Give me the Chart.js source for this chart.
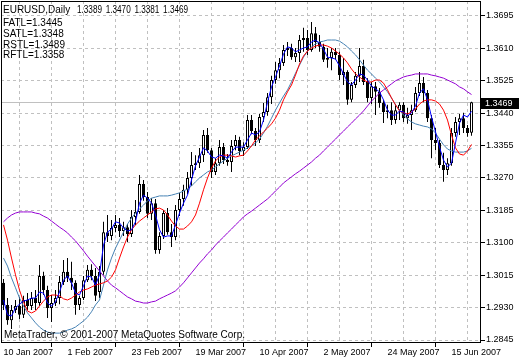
<!DOCTYPE html>
<html>
<head>
<meta charset="utf-8">
<script src="https://cdn.jsdelivr.net/npm/chart.js@4"></script>
<style>
  html, body { margin: 0; padding: 0; background: #fff; }
  canvas { display: block; }
</style>
</head>
<body>
<canvas id="chart" width="520" height="360"></canvas>
<script>
// EURUSD daily, 10 Jan 2007 .. 22 Jun 2007 (one entry per trading day)
const open = [1.2995, 1.2937, 1.2897, 1.2924, 1.2934, 1.2911, 1.2950, 1.2934, 1.2955, 1.2942,
  1.3013, 1.2976, 1.2929, 1.2942, 1.2955, 1.2997, 1.3024, 1.3008, 1.2995, 1.2937,
  1.2955, 1.3002, 1.3029, 1.3013, 1.2971, 1.3024, 1.3128, 1.3118, 1.3139, 1.3147,
  1.3131, 1.3141, 1.3123, 1.3168, 1.3181, 1.3254, 1.3220, 1.3176, 1.3204, 1.3081,
  1.3118, 1.3178, 1.3128, 1.3115, 1.3186, 1.3215, 1.3239, 1.3270, 1.3304, 1.3309,
  1.3330, 1.3383, 1.3343, 1.3286, 1.3309, 1.3351, 1.3317, 1.3312, 1.3354, 1.3370,
  1.3341, 1.3351, 1.3422, 1.3393, 1.3370, 1.3430, 1.3443, 1.3482, 1.3527, 1.3553,
  1.3572, 1.3606, 1.3611, 1.3587, 1.3598, 1.3632, 1.3637, 1.3606, 1.3650, 1.3627,
  1.3614, 1.3580, 1.3585, 1.3601, 1.3593, 1.3540, 1.3548, 1.3475, 1.3514, 1.3538,
  1.3564, 1.3522, 1.3480, 1.3511, 1.3496, 1.3467, 1.3443, 1.3448, 1.3422, 1.3448,
  1.3462, 1.3427, 1.3435, 1.3448, 1.3493, 1.3519, 1.3493, 1.3427, 1.3370, 1.3362,
  1.3304, 1.3291, 1.3309, 1.3388, 1.3417, 1.3427, 1.3401, 1.3389];
const high = [1.3005, 1.2955, 1.2937, 1.2950, 1.2958, 1.2961, 1.2968, 1.2971, 1.2976, 1.3042,
  1.3024, 1.2987, 1.2963, 1.2976, 1.3013, 1.3055, 1.3060, 1.3050, 1.3002, 1.2961,
  1.3013, 1.3042, 1.3044, 1.3034, 1.3039, 1.3155, 1.3173, 1.3160, 1.3173, 1.3165,
  1.3155, 1.3149, 1.3186, 1.3212, 1.3278, 1.3265, 1.3233, 1.3217, 1.3215, 1.3128,
  1.3186, 1.3191, 1.3149, 1.3199, 1.3231, 1.3252, 1.3286, 1.3338, 1.3330, 1.3349,
  1.3396, 1.3401, 1.3349, 1.3322, 1.3370, 1.3362, 1.3333, 1.3370, 1.3383, 1.3378,
  1.3364, 1.3435, 1.3435, 1.3401, 1.3438, 1.3467, 1.3493, 1.3538, 1.3574, 1.3585,
  1.3619, 1.3627, 1.3622, 1.3611, 1.3645, 1.3664, 1.3658, 1.3679, 1.3666, 1.3645,
  1.3622, 1.3611, 1.3611, 1.3611, 1.3601, 1.3585, 1.3553, 1.3522, 1.3548, 1.3611,
  1.3580, 1.3532, 1.3522, 1.3522, 1.3506, 1.3475, 1.3462, 1.3469, 1.3464, 1.3469,
  1.3469, 1.3454, 1.3462, 1.3509, 1.3548, 1.3535, 1.3501, 1.3435, 1.3401, 1.3370,
  1.3336, 1.3322, 1.3401, 1.3430, 1.3438, 1.3441, 1.3409, 1.3470];
const low = [1.2924, 1.2885, 1.2874, 1.2916, 1.2900, 1.2903, 1.2924, 1.2924, 1.2924, 1.2934,
  1.2963, 1.2903, 1.2892, 1.2934, 1.2939, 1.2989, 1.2997, 1.2976, 1.2911, 1.2924,
  1.2950, 1.2997, 1.3002, 1.2947, 1.2955, 1.3016, 1.3102, 1.3107, 1.3128, 1.3115,
  1.3118, 1.3102, 1.3115, 1.3147, 1.3176, 1.3210, 1.3165, 1.3160, 1.3071, 1.3071,
  1.3110, 1.3121, 1.3089, 1.3107, 1.3170, 1.3197, 1.3228, 1.3249, 1.3291, 1.3296,
  1.3312, 1.3336, 1.3270, 1.3278, 1.3302, 1.3307, 1.3302, 1.3286, 1.3343, 1.3330,
  1.3328, 1.3346, 1.3385, 1.3354, 1.3362, 1.3417, 1.3433, 1.3464, 1.3517, 1.3532,
  1.3564, 1.3590, 1.3580, 1.3574, 1.3574, 1.3601, 1.3593, 1.3601, 1.3611, 1.3601,
  1.3574, 1.3559, 1.3553, 1.3580, 1.3527, 1.3514, 1.3462, 1.3469, 1.3506, 1.3522,
  1.3514, 1.3469, 1.3464, 1.3435, 1.3454, 1.3414, 1.3427, 1.3409, 1.3412, 1.3422,
  1.3417, 1.3412, 1.3396, 1.3443, 1.3485, 1.3469, 1.3417, 1.3322, 1.3343, 1.3296,
  1.3260, 1.3278, 1.3302, 1.3378, 1.3383, 1.3388, 1.3378, 1.3381];
const close = [1.2937, 1.2897, 1.2924, 1.2934, 1.2911, 1.2950, 1.2934, 1.2955, 1.2942, 1.3013,
  1.2976, 1.2929, 1.2942, 1.2955, 1.2997, 1.3024, 1.3008, 1.2995, 1.2937, 1.2955,
  1.3002, 1.3029, 1.3013, 1.2961, 1.3024, 1.3128, 1.3118, 1.3139, 1.3147, 1.3131,
  1.3141, 1.3123, 1.3168, 1.3181, 1.3254, 1.3220, 1.3176, 1.3204, 1.3081, 1.3118,
  1.3178, 1.3128, 1.3115, 1.3186, 1.3215, 1.3239, 1.3270, 1.3304, 1.3309, 1.3330,
  1.3383, 1.3343, 1.3286, 1.3309, 1.3351, 1.3317, 1.3312, 1.3354, 1.3370, 1.3341,
  1.3351, 1.3422, 1.3393, 1.3370, 1.3430, 1.3443, 1.3482, 1.3527, 1.3553, 1.3572,
  1.3606, 1.3611, 1.3587, 1.3598, 1.3632, 1.3637, 1.3606, 1.3650, 1.3627, 1.3614,
  1.3580, 1.3585, 1.3601, 1.3593, 1.3540, 1.3548, 1.3475, 1.3514, 1.3538, 1.3564,
  1.3522, 1.3480, 1.3511, 1.3496, 1.3467, 1.3443, 1.3448, 1.3422, 1.3448, 1.3462,
  1.3427, 1.3435, 1.3448, 1.3493, 1.3519, 1.3493, 1.3427, 1.3370, 1.3362, 1.3304,
  1.3291, 1.3309, 1.3388, 1.3417, 1.3427, 1.3401, 1.3388, 1.3469];

// indicator lines
const fatl = [1.2950, 1.2911, 1.2908, 1.2929, 1.2939, 1.2947, 1.2950, 1.2955, 1.2955, 1.2971,
  1.2968, 1.2942, 1.2934, 1.2945, 1.2971, 1.3002, 1.3013, 1.2995, 1.2968, 1.2963,
  1.2987, 1.3013, 1.3010, 1.2989, 1.3016, 1.3094, 1.3128, 1.3136, 1.3155, 1.3152,
  1.3139, 1.3131, 1.3134, 1.3155, 1.3204, 1.3225, 1.3217, 1.3204, 1.3173, 1.3134,
  1.3115, 1.3118, 1.3118, 1.3147, 1.3178, 1.3204, 1.3225, 1.3265, 1.3302, 1.3325,
  1.3349, 1.3341, 1.3325, 1.3322, 1.3330, 1.3328, 1.3322, 1.3338, 1.3351, 1.3351,
  1.3351, 1.3370, 1.3388, 1.3383, 1.3391, 1.3422, 1.3469, 1.3509, 1.3535, 1.3564,
  1.3595, 1.3614, 1.3611, 1.3601, 1.3606, 1.3611, 1.3614, 1.3627, 1.3632, 1.3624,
  1.3608, 1.3587, 1.3585, 1.3582, 1.3564, 1.3543, 1.3522, 1.3514, 1.3527, 1.3543,
  1.3540, 1.3527, 1.3511, 1.3504, 1.3496, 1.3475, 1.3448, 1.3435, 1.3435, 1.3446,
  1.3443, 1.3433, 1.3441, 1.3459, 1.3493, 1.3504, 1.3475, 1.3430, 1.3391, 1.3351,
  1.3317, 1.3299, 1.3309, 1.3362, 1.3414, 1.3435, 1.3430, 1.3445];
const satl = [1.3060, 1.3039, 1.3008, 1.2982, 1.2955, 1.2934, 1.2916, 1.2903, 1.2890, 1.2879,
  1.2871, 1.2866, 1.2863, 1.2863, 1.2863, 1.2866, 1.2871, 1.2874, 1.2879, 1.2887,
  1.2895, 1.2905, 1.2919, 1.2937, 1.2950, 1.2989, 1.3029, 1.3060, 1.3086, 1.3107,
  1.3128, 1.3149, 1.3165, 1.3178, 1.3189, 1.3199, 1.3210, 1.3217, 1.3220, 1.3223,
  1.3223, 1.3223, 1.3225, 1.3228, 1.3231, 1.3236, 1.3241, 1.3249, 1.3260, 1.3270,
  1.3278, 1.3286, 1.3291, 1.3299, 1.3307, 1.3315, 1.3322, 1.3328, 1.3333, 1.3338,
  1.3343, 1.3349, 1.3354, 1.3362, 1.3372, 1.3388, 1.3406, 1.3427, 1.3448, 1.3467,
  1.3485, 1.3501, 1.3522, 1.3545, 1.3566, 1.3587, 1.3603, 1.3614, 1.3622, 1.3627,
  1.3629, 1.3632, 1.3632, 1.3632, 1.3629, 1.3622, 1.3614, 1.3603, 1.3593, 1.3580,
  1.3566, 1.3553, 1.3543, 1.3532, 1.3522, 1.3509, 1.3496, 1.3480, 1.3462, 1.3448,
  1.3435, 1.3425, 1.3417, 1.3412, 1.3409, 1.3406, 1.3404, 1.3399, 1.3388, 1.3372,
  1.3357, 1.3346, 1.3341, 1.3338, 1.3338, 1.3338, 1.3341, 1.3348];
const rstl = [1.3155, 1.3165, 1.3173, 1.3178, 1.3181, 1.3181, 1.3181, 1.3181, 1.3178, 1.3176,
  1.3170, 1.3165, 1.3157, 1.3149, 1.3141, 1.3134, 1.3126, 1.3115, 1.3105, 1.3092,
  1.3079, 1.3065, 1.3052, 1.3039, 1.3026, 1.3013, 1.3000, 1.2989, 1.2982, 1.2974,
  1.2966, 1.2958, 1.2953, 1.2947, 1.2945, 1.2942, 1.2942, 1.2945, 1.2947, 1.2953,
  1.2958, 1.2963, 1.2968, 1.2974, 1.2984, 1.2995, 1.3008, 1.3021, 1.3034, 1.3047,
  1.3058, 1.3071, 1.3081, 1.3094, 1.3105, 1.3115, 1.3126, 1.3136, 1.3147, 1.3157,
  1.3168, 1.3176, 1.3183, 1.3191, 1.3199, 1.3207, 1.3215, 1.3225, 1.3236, 1.3246,
  1.3257, 1.3265, 1.3273, 1.3281, 1.3288, 1.3296, 1.3304, 1.3312, 1.3322, 1.3330,
  1.3341, 1.3351, 1.3362, 1.3372, 1.3383, 1.3393, 1.3404, 1.3414, 1.3425, 1.3435,
  1.3446, 1.3459, 1.3472, 1.3482, 1.3493, 1.3501, 1.3509, 1.3517, 1.3525, 1.3530,
  1.3535, 1.3538, 1.3540, 1.3543, 1.3543, 1.3543, 1.3543, 1.3540, 1.3538, 1.3535,
  1.3532, 1.3527, 1.3522, 1.3517, 1.3509, 1.3504, 1.3496, 1.3489];
const rftl = [1.3147, 1.3107, 1.3060, 1.3016, 1.2976, 1.2945, 1.2921, 1.2916, 1.2921, 1.2934,
  1.2947, 1.2958, 1.2963, 1.2963, 1.2961, 1.2953, 1.2950, 1.2955, 1.2963, 1.2971,
  1.2976, 1.2979, 1.2984, 1.2989, 1.2992, 1.2995, 1.3000, 1.3010, 1.3029, 1.3060,
  1.3089, 1.3115, 1.3134, 1.3147, 1.3157, 1.3165, 1.3173, 1.3181, 1.3189, 1.3191,
  1.3186, 1.3173, 1.3157, 1.3144, 1.3136, 1.3136, 1.3144, 1.3155, 1.3173, 1.3204,
  1.3239, 1.3270, 1.3296, 1.3315, 1.3325, 1.3330, 1.3330, 1.3328, 1.3325, 1.3328,
  1.3330, 1.3341, 1.3354, 1.3370, 1.3380, 1.3391, 1.3401, 1.3412, 1.3427, 1.3448,
  1.3475, 1.3496, 1.3514, 1.3540, 1.3569, 1.3590, 1.3603, 1.3611, 1.3616, 1.3619,
  1.3619, 1.3616, 1.3611, 1.3603, 1.3595, 1.3585, 1.3572, 1.3556, 1.3543, 1.3535,
  1.3527, 1.3522, 1.3522, 1.3527, 1.3527, 1.3519, 1.3501, 1.3480, 1.3462, 1.3446,
  1.3441, 1.3438, 1.3443, 1.3451, 1.3464, 1.3472, 1.3475, 1.3475, 1.3472, 1.3464,
  1.3448, 1.3422, 1.3383, 1.3349, 1.3333, 1.3330, 1.3341, 1.3358];

// axes
const yTicks = [1.2845, 1.2930, 1.3015, 1.3100, 1.3185, 1.3270, 1.3355, 1.3440, 1.3525, 1.3610, 1.3695];
const xGridBars = [0, 8, 16, 24, 32, 40, 48, 56, 64, 72, 80, 88, 96, 104, 112];
const xTickBars = [0, 16, 32, 48, 64, 80, 96, 112];
const xTickLabels = ['10 Jan 2007', '1 Feb 2007', '23 Feb 2007', '19 Mar 2007',
  '10 Apr 2007', '2 May 2007', '24 May 2007', '15 Jun 2007'];

const FONT = "'Liberation Sans', Arial, sans-serif";
const GRID = '#c0c0c0';

const idx = close.map((c, i) => i);
const last = close.length - 1;
const toLine = arr => arr.map((v, i) => ({ x: i, y: v }));

// overlay: frame, price line, header texts
const overlay = {
  id: 'overlay',
  beforeDatasetsDraw(chart) {
    const { ctx, chartArea: a, scales: { y } } = chart;
    const py = Math.round(y.getPixelForValue(close[last])) + 0.5;
    ctx.save();
    ctx.strokeStyle = GRID;
    ctx.lineWidth = 1;
    ctx.beginPath();
    ctx.moveTo(a.left, py);
    ctx.lineTo(a.right, py);
    ctx.stroke();
    ctx.restore();
  },
  afterDraw(chart) {
    const { ctx, chartArea: a, scales: { y } } = chart;
    ctx.save();
    // frame
    ctx.strokeStyle = '#000';
    ctx.lineWidth = 1;
    ctx.strokeRect(a.left + 0.5, a.top + 0.5, a.right - a.left - 1, a.bottom - a.top - 1);

    // header
    ctx.fillStyle = '#000';
    ctx.textBaseline = 'alphabetic';
    ctx.font = '10px ' + FONT;
    ctx.fillText('EURUSD,Daily', 3, 13);
    [open[last], high[last], low[last], close[last]].forEach((v, k) => {
      ctx.fillText(v.toFixed(4), 77 + k * 28.7, 13, 25);
    });
    const legend = [['FATL', fatl], ['SATL', satl], ['RSTL', rstl], ['RFTL', rftl]];
    legend.forEach(([name, arr], k) => {
      ctx.fillText(name + '=' + arr[last].toFixed(4), 3, 26 + k * 10.8);
    });
    ctx.fillText('MetaTrader, \u00a9 2001-2007 MetaQuotes Software Corp.', 4, 338);

    // current price box on the axis
    const py = Math.round(y.getPixelForValue(close[last]));
    ctx.fillStyle = '#000';
    ctx.fillRect(a.right, py - 4, 38, 11);
    ctx.fillStyle = '#fff';
    ctx.font = '9px ' + FONT;
    ctx.textBaseline = 'middle';
    ctx.fillText(close[last].toFixed(4), a.right + 4, py + 1.5);
    ctx.restore();
  }
};

const noPad = s => { s.paddingLeft = 0; s.paddingRight = 0; s.paddingTop = 0; s.paddingBottom = 0; };

new Chart(document.getElementById('chart').getContext('2d'), {
  type: 'bar',
  data: {
    datasets: [
      { type: 'line', label: 'FATL', data: toLine(fatl), borderColor: '#0000ff', borderWidth: 1, pointRadius: 0, order: 0 },
      { type: 'line', label: 'RFTL', data: toLine(rftl), borderColor: '#ff0000', borderWidth: 1, pointRadius: 0, order: 1 },
      { type: 'line', label: 'SATL', data: toLine(satl), borderColor: '#4682b4', borderWidth: 1, pointRadius: 0, order: 2 },
      { type: 'line', label: 'RSTL', data: toLine(rstl), borderColor: '#9400d3', borderWidth: 1, pointRadius: 0, order: 3 },
      {
        label: 'body',
        data: idx.map(i => ({ x: i, y: [open[i], close[i]] })),
        backgroundColor: idx.map(i => close[i] >= open[i] ? '#ffffff' : '#000000'),
        borderColor: '#000',
        borderWidth: 1,
        borderSkipped: false,
        barThickness: 3,
        minBarLength: 1,
        inflateAmount: 0,
        grouped: false,
        order: 4
      },
      {
        label: 'wick',
        data: idx.map(i => ({ x: i, y: [low[i], high[i]] })),
        backgroundColor: '#000',
        barThickness: 1,
        inflateAmount: 0,
        grouped: false,
        order: 5
      }
    ]
  },
  options: {
    responsive: false,
    devicePixelRatio: 1,
    animation: false,
    layout: { padding: { left: 1, top: 1, right: 0, bottom: 0 } },
    plugins: { legend: { display: false }, tooltip: { enabled: false } },
    scales: {
      x: {
        type: 'linear',
        position: 'bottom',
        min: -0.625,
        max: 119.375,
        offset: false,
        afterBuildTicks: s => { s.ticks = xGridBars.map(v => ({ value: v })); },
        afterFit: s => { s.height = 17; noPad(s); },
        ticks: {
          autoSkip: false,
          maxRotation: 0,
          align: 'start',
          padding: 0,
          color: '#000',
          font: { family: FONT, size: 9 },
          callback: v => {
            const k = xTickBars.indexOf(v);
            return k >= 0 ? xTickLabels[k] : '';
          }
        },
        grid: {
          color: GRID,
          lineWidth: 1,
          tickLength: 4,
          tickColor: c => (c.tick && xTickBars.includes(c.tick.value)) ? '#000' : 'rgba(0,0,0,0)'
        },
        border: { display: false, dash: [3, 3] }
      },
      y: {
        type: 'linear',
        position: 'right',
        min: 1.283713,
        max: 1.373435,
        afterBuildTicks: s => { s.ticks = yTicks.map(v => ({ value: v })); },
        afterFit: s => { s.width = 39; noPad(s); },
        ticks: {
          autoSkip: false,
          padding: 1,
          color: '#000',
          font: { family: FONT, size: 9 },
          callback: v => v.toFixed(4)
        },
        grid: { color: GRID, lineWidth: 1, tickLength: 4, tickColor: '#000' },
        border: { display: false, dash: [3, 3] }
      }
    }
  },
  plugins: [overlay]
});
</script>
</body>
</html>
